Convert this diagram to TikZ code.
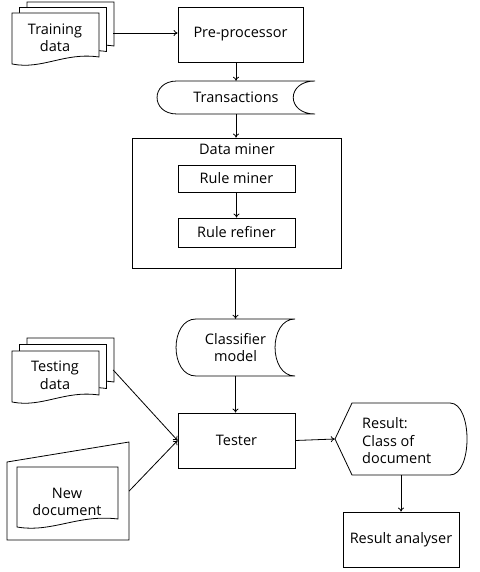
\documentclass[tikz,border=0pt]{standalone}
\usepackage{fontspec}
\setmainfont{Open Sans}
\usetikzlibrary{arrows.meta}
\newcommand\docshape[5]{%
  \draw[shp] (#1,#2) -- (#3,#2) -- (#3,#5)
    .. controls ({#1+0.6*(#3-#1)},{#5-5}) and ({#1+0.35*(#3-#1)},{#4+6}) .. (#1,#4) -- cycle;}
\begin{document}
\begin{tikzpicture}[x=1pt,y=-1pt,
  font=\fontsize{14.5}{17.5}\selectfont,
  shp/.style={line width=0.8pt, fill=white},
  box/.style={draw, line width=0.8pt, inner sep=0pt, align=center},
  frame/.style={inner sep=0pt, align=center},
  txt/.style={inner sep=0pt, align=center},
  arr/.style={-{To[length=4pt,width=6pt]}, line width=0.8pt}]
\useasboundingbox (0,0) rectangle (479,572);
% Training data (multi-document)
\begin{scope}[shift={(15,-11)}]\docshape{12}{13}{99}{64}{57}\end{scope}
\begin{scope}[shift={(7.5,-5.5)}]\docshape{12}{13}{99}{64}{57}\end{scope}
\docshape{12}{13}{99}{64}{57}
% Testing data (multi-document)
\begin{scope}[shift={(15,-13)}]\docshape{12}{351}{99}{402}{395}\end{scope}
\begin{scope}[shift={(7.5,-6.5)}]\docshape{12}{351}{99}{402}{395}\end{scope}
\docshape{12}{351}{99}{402}{395}
% New document (manual input with document inside)
\draw[shp] (7,462) -- (129,442) -- (129,540) -- (7,540) -- cycle;
\docshape{17}{467}{118}{527}{519}
% Transactions (stored data)
\draw[shp] (177,81) -- (315,81) .. controls (286,81) and (286,114) .. (315,114)
  -- (177,114) .. controls (150.4,114) and (150.4,81) .. (177,81) -- cycle;
% Classifier model (stored data)
\draw[shp] (196,319) -- (295,319) .. controls (268.4,319) and (268.4,376) .. (295,376)
  -- (196,376) .. controls (169.4,376) and (169.4,319) .. (196,319) -- cycle;
% Result (display)
\draw[shp] (335,439) -- (352,403) -- (450,403) .. controls (472.7,403) and (472.7,475) .. (450,475)
  -- (352,475) -- cycle;
% frames of the drawn shapes
\node[frame, minimum width=101pt, minimum height=62pt] (train) at (62.5,33) {};
\node[frame, minimum width=101pt, minimum height=64pt] (test) at (62.5,370) {};
\node[frame, minimum width=122pt, minimum height=98pt] (newdoc) at (68,491) {};
\node[frame, minimum width=158pt, minimum height=33pt] (trans) at (236,97.5) {Transactions};
\node[frame, minimum width=119pt, minimum height=57pt] (cls) at (235.5,347.5) {Classifier\\model};
\node[frame, minimum width=132pt, minimum height=72pt] (res) at (401,439) {};
% texts of the drawn shapes
\node[txt] (traintxt) at (55,38) {Training\\data};
\node[txt] (testtxt) at (55,375) {Testing\\data};
\node[txt] (newtxt) at (67,502) {New\\document};
\node[txt, align=left, anchor=west] (restxt) at (362,441) {Result:\\Class of\\document};
% boxes
\node[box, minimum width=125pt, minimum height=55pt] (pre) at (240.5,34.5) {Pre-processor};
\node[box, minimum width=209pt, minimum height=130pt] (dm) at (236.5,203) {};
\node[txt] (dmtxt) at (237,149) {Data miner};
\node[box, minimum width=117pt, minimum height=27pt] (rm) at (236.5,178.5) {Rule miner};
\node[box, minimum width=117pt, minimum height=29pt] (rr) at (236.5,232.5) {Rule refiner};
\node[box, minimum width=117pt, minimum height=55pt] (tester) at (236.5,440.5) {Tester};
\node[box, minimum width=116pt, minimum height=55pt] (ana) at (401,539.5) {Result analyser};
% connectors
\draw[arr] (train.east) -- (train.east -| pre.west);
\draw[arr] (pre.south -| trans.north) -- (trans.north);
\draw[arr] (trans.south) -- (trans.south |- dm.north);
\draw[arr] (rm.south) -- (rr.north);
\draw[arr] (dm.south -| cls.north) -- (cls.north);
\draw[arr] (cls.south) -- (cls.south |- tester.north);
\draw[arr] (test.east) -- (tester.west);
\draw[arr] (newdoc.east) -- (tester.west);
\draw[arr] (tester.east) -- (res.west);
\draw[arr] (res.south) -- (ana.north);
\end{tikzpicture}
\end{document}
